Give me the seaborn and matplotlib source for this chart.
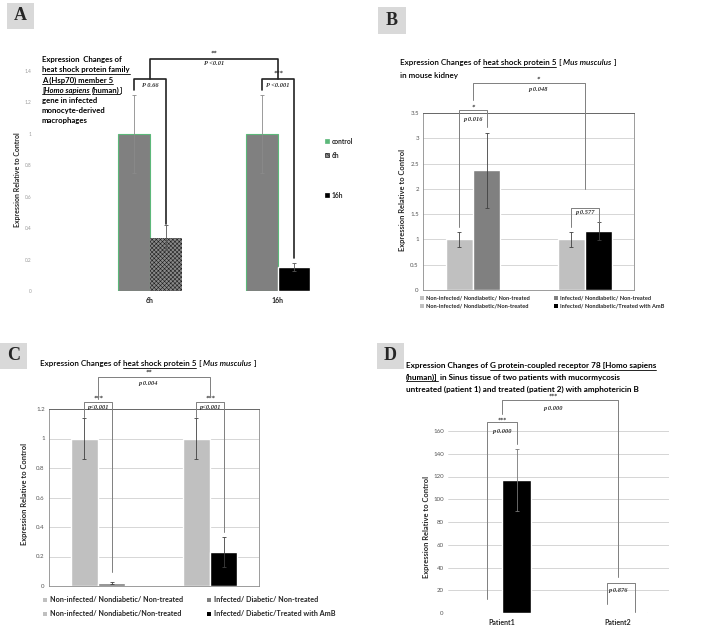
import matplotlib
matplotlib.use("Agg")
import matplotlib.pyplot as plt
import seaborn as sns
import pandas as pd
from matplotlib.patches import Rectangle
from matplotlib.lines import Line2D

W, H = 722, 628

# ===================== DATA =====================
# Panel A - HSPA5, human monocyte-derived macrophages
a_groups = ["6h", "16h"]
a_control = [1.0, 1.0]
a_control_err = [0.25, 0.25]
a_infected = [0.34, 0.155]
a_infected_err = [0.08, 0.025]
a_legend = ["control", "6h", "16h"]

# Panel B - HSP5, mouse kidney (non-diabetic)
b_groups = ["Non-treated", "Treated with AmB"]
b_control = [1.0, 1.0]
b_control_err = [0.14, 0.14]
b_infected = [2.37, 1.16]
b_infected_err = [0.74, 0.18]
b_legend = ["Non-infected/ Nondiabetic/ Non-treated", "Infected/ Nondiabetic/ Non-treated",
            "Non-infected/ Nondiabetic/Non-treated", "Infected/ Nondiabetic/Treated with AmB"]

# Panel C - HSP5, mouse (diabetic)
c_groups = ["Non-treated", "Treated with AmB"]
c_control = [1.0, 1.0]
c_control_err = [0.14, 0.14]
c_infected = [0.02, 0.23]
c_infected_err = [0.005, 0.1]
c_legend = ["Non-infected/ Nondiabetic/ Non-treated", "Infected/ Diabetic/ Non-treated",
            "Non-infected/ Nondiabetic/Non-treated", "Infected/ Diabetic/Treated with AmB"]

# Panel D - GPR78, patients
d_groups = ["Patient1", "Patient2"]
d_control = [1.0, 1.0]
d_infected = [117.0, 0.5]
d_infected_err = [27.0, 0.0]

sns.set_theme(style="white")
plt.rcParams["font.family"] = ["Lato", "DejaVu Sans"]
plt.rcParams["hatch.linewidth"] = 0.4

fig = plt.figure(figsize=(W / 100, H / 100), dpi=100)
fig.patch.set_facecolor("white")
renderer = fig.canvas.get_renderer()


def px_ax(x0, y0, x1, y1):
    return fig.add_axes([x0 / W, 1 - y1 / H, (x1 - x0) / W, (y1 - y0) / H])


def bar_panel(ax, groups, control, infected, width):
    df = pd.DataFrame({
        "group": groups * 2,
        "value": control + infected,
        "series": ["control"] * len(groups) + ["infected"] * len(groups),
    })
    sns.barplot(data=df, x="group", y="value", hue="series", order=groups,
                width=width, ax=ax, legend=False, saturation=1, errorbar=None,
                palette=["#c0c0c0", "#000000"])
    bars = list(ax.patches)
    n = len(groups)
    return bars[:n], bars[n:]


def add_errors(ax, bars, errs, color="#404040"):
    xs = [b.get_x() + b.get_width() / 2 for b in bars]
    ys = [b.get_height() for b in bars]
    ax.errorbar(xs, ys, yerr=errs, fmt="none", ecolor=color, elinewidth=0.6,
                capsize=1.6, capthick=0.6, zorder=5)


def center(b):
    return b.get_x() + b.get_width() / 2


def bracket(ax, x0, x1, top, y0, y1, color="#7f7f7f", lw=0.7):
    ax.plot([x0, x0, x1, x1], [y0, top, top, y1], color=color, lw=lw,
            clip_on=False, zorder=6)


def ptext(ax, x, y, s, size=4.6):
    ax.text(x, y, s, ha="center", va="center", fontsize=size, fontstyle="italic",
            fontweight="bold", family=["Liberation Serif", "DejaVu Serif"],
            color="#333333", clip_on=False)


def rich_line(x, y, parts, size, weight="bold", color="black"):
    # parts: (text, italic, underline); y is baseline in pixels
    sp = fig.text(0, 0, "x x", fontsize=size, fontweight=weight)
    sq = fig.text(0, 0, "xx", fontsize=size, fontweight=weight)
    space = sp.get_window_extent(renderer).width - sq.get_window_extent(renderer).width
    sp.remove()
    sq.remove()
    for text, italic, under in parts:
        lead = len(text) - len(text.lstrip(" "))
        trail = len(text) - len(text.rstrip(" "))
        x += lead * space
        core = text.strip(" ")
        if core:
            t = fig.text(x / W, 1 - y / H, core, fontsize=size, fontweight=weight,
                         fontstyle="italic" if italic else "normal", color=color,
                         ha="left", va="baseline")
            bb = t.get_window_extent(renderer)
            if under:
                fig.add_artist(Line2D([bb.x0 / W, bb.x1 / W], [(H - y - 1.6) / H] * 2,
                                      transform=fig.transFigure, lw=0.6, color=color))
            x += bb.width
        x += trail * space


def panel_label(x0, y0, x1, y1, letter):
    fig.add_artist(Rectangle((x0 / W, 1 - y1 / H), (x1 - x0) / W, (y1 - y0) / H,
                             transform=fig.transFigure, facecolor="#d9d9d9", edgecolor="none"))
    fig.text((x0 + x1) / 2 / W, 1 - (y0 + y1) / 2 / H, letter, ha="center", va="center",
             fontsize=13, fontweight="bold", family=["Liberation Serif", "DejaVu Serif"])


def manual_legend(entries, size):
    # entries: (x_px, y_px, label, facecolor, edgecolor, hatch)
    for x, y, label, fc, ec, hatch in entries:
        fig.add_artist(Rectangle((x / W, 1 - (y + 2.2) / H), 4.4 / W, 4.4 / H,
                                 transform=fig.transFigure, facecolor=fc, edgecolor=ec,
                                 hatch=hatch, lw=0.5))
        fig.text((x + 6.5) / W, 1 - y / H, label, ha="left", va="center", fontsize=size,
                 fontweight="bold", color="#262626")


def ylab(x, y, size=5.4):
    fig.text(x / W, 1 - y / H, "Expression Relative to Control", rotation=90,
             ha="center", va="center", fontsize=size, fontweight="bold")


def boxed_frame(ax, step, top):
    ax.set_yticks([i * step for i in range(int(round(top / step)) + 1)])
    ax.yaxis.grid(True, color="#d0d0d0", lw=0.6)
    ax.set_axisbelow(True)
    for s in ax.spines.values():
        s.set_visible(True)
        s.set_color("#8c8c8c")
        s.set_linewidth(0.6)
    ax.spines["top"].set_color("#555555")
    ax.set_xticks([])
    ax.set_xlabel("")
    ax.set_ylabel("")
    ax.tick_params(axis="y", labelsize=4.4, labelcolor="#555555", length=0, pad=3)


# ===================== PANEL A =====================
axA = px_ax(40, 71, 320, 291)
ca, ia = bar_panel(axA, a_groups, a_control, a_infected, 0.5)
for b in ca:
    b.set_facecolor("#808080")
    b.set_edgecolor("#5cb87a")
    b.set_linewidth(0.8)
ia[0].set_facecolor("#8a8a8a")
ia[0].set_edgecolor("#1e1e1e")
ia[0].set_hatch("xxxxxxxx")
ia[0].set_linewidth(0)
ia[1].set_facecolor("#000000")
add_errors(axA, ca, a_control_err, color="#8a8a8a")
add_errors(axA, ia, a_infected_err, color="#555555")
axA.set_ylim(0, 1.4)
axA.set_xlim((40 - 150) / 128, (320 - 150) / 128)
axA.set_yticks([0, 0.2, 0.4, 0.6, 0.8, 1, 1.2, 1.4])
axA.set_yticklabels(["0", "0.2", "0.4", "0.6", "0.8", "1", "1.2", "1.4"])
axA.tick_params(axis="y", labelsize=3.4, labelcolor="#9a9a9a", length=0, pad=6)
axA.tick_params(axis="x", labelsize=5, length=0, pad=4)
for lbl in axA.get_xticklabels():
    lbl.set_fontweight("bold")
axA.set_xlabel("")
axA.set_ylabel("")
sns.despine(ax=axA, left=True, bottom=True)

bracket(axA, 0, 1, 1.478, 1.35, 1.35, color="#222222", lw=1.2)
bracket(axA, center(ca[0]), center(ia[0]), 1.35, 1.28, 0.425, color="#222222", lw=1.2)
bracket(axA, center(ca[1]), center(ia[1]), 1.35, 1.28, 0.21, color="#222222", lw=1.2)
ptext(axA, 0.5, 1.51, "**")
ptext(axA, 0.5, 1.445, "P <0.01")
ptext(axA, 1.0, 1.385, "***")
ptext(axA, 1.0, 1.31, "P <0.001")
ptext(axA, 0.0, 1.31, "P 0.66")

ylab(18, 180, size=5.0)
manual_legend([(325, 141, a_legend[0], "#5cb87a", "#5cb87a", None),
               (325, 155, a_legend[1], "#8a8a8a", "#1e1e1e", "xxxxx"),
               (325, 195, a_legend[2], "#000000", "#000000", None)], 4.8)

ty = 62
a_lines = [
    [("Expression  Changes of", False, False)],
    [("heat shock protein family", False, True)],
    [("A (Hsp70) member 5", False, True)],
    [("[", False, True), ("Homo sapiens", True, True), (" (human)", False, True), ("]", False, False)],
    [("gene in infected", False, False)],
    [("monocyte-derived", False, False)],
    [("macrophages", False, False)],
]
for i, parts in enumerate(a_lines):
    rich_line(42, ty + i * 10.2, parts, 5.6)
panel_label(7, 3, 34, 29, "A")

# ===================== PANEL B =====================
axB = px_ax(423, 113, 634, 290)
cb, ib = bar_panel(axB, b_groups, b_control, b_infected, 0.49)
for b in cb:
    b.set_facecolor("#c0c0c0")
ib[0].set_facecolor("#808080")
ib[1].set_facecolor("#000000")
add_errors(axB, cb, b_control_err)
add_errors(axB, ib, b_infected_err)
axB.set_ylim(0, 3.5)
axB.set_xlim((423 - 473) / 112, (634 - 473) / 112)
boxed_frame(axB, 0.5, 3.5)
axB.set_yticklabels(["0", "0.5", "1", "1.5", "2", "2.5", "3", "3.5"])

bracket(axB, 0, 1, 4.09, 3.75, 2.0)
bracket(axB, center(cb[0]), center(ib[0]), 3.56, 1.25, 3.22)
bracket(axB, center(cb[1]), center(ib[1]), 1.62, 1.25, 1.34)
ptext(axB, 0.58, 4.17, "*")
ptext(axB, 0.58, 3.97, "p 0.048")
ptext(axB, 0.0, 3.62, "*")
ptext(axB, 0.0, 3.38, "p 0.016")
ptext(axB, 1.0, 1.54, "p 0.577")

ylab(403, 200)
manual_legend([(420, 298, b_legend[0], "#c0c0c0", "none", None),
               (554, 298, b_legend[1], "#808080", "none", None),
               (420, 306, b_legend[2], "#c0c0c0", "none", None),
               (554, 306, b_legend[3], "#000000", "none", None)], 4.1)
rich_line(400, 65, [("Expression Changes of ", False, False), ("heat shock protein 5", False, True),
                    (" [ ", False, False), ("Mus musculus", True, False), (" ]", False, False)],
          5.9, weight="semibold")
rich_line(400, 78, [("in mouse kidney", False, False)], 5.9, weight="semibold")
panel_label(378, 7, 406, 34, "B")

# ===================== PANEL C =====================
axC = px_ax(49, 409, 259, 586)
cc, ic = bar_panel(axC, c_groups, c_control, c_infected, 0.49)
for b in cc:
    b.set_facecolor("#c0c0c0")
ic[0].set_facecolor("#7f7f7f")
ic[1].set_facecolor("#000000")
add_errors(axC, cc, c_control_err)
add_errors(axC, ic, c_infected_err)
axC.set_ylim(0, 1.2)
axC.set_xlim((49 - 98) / 112, (259 - 98) / 112)
boxed_frame(axC, 0.2, 1.2)
axC.set_yticklabels(["0", "0.2", "0.4", "0.6", "0.8", "1", "1.2"])

bracket(axC, 0, 1, 1.417, 1.268, 1.28)
bracket(axC, center(cc[0]), center(ic[0]), 1.247, 1.146, 0.095)
bracket(axC, center(cc[1]), center(ic[1]), 1.247, 1.146, 0.366)
ptext(axC, 0.45, 1.45, "**")
ptext(axC, 0.45, 1.376, "p 0.004")
ptext(axC, 0.0, 1.27, "***")
ptext(axC, 0.0, 1.207, "p<0.001")
ptext(axC, 1.0, 1.27, "***")
ptext(axC, 1.0, 1.207, "p<0.001")

ylab(25, 494)
manual_legend([(43, 600, c_legend[0], "#c0c0c0", "none", None),
               (207, 600, c_legend[1], "#7f7f7f", "none", None),
               (43, 614, c_legend[2], "#c0c0c0", "none", None),
               (207, 614, c_legend[3], "#000000", "none", None)], 5.2)
rich_line(40, 366, [("Expression Changes of ", False, False), ("heat shock protein 5", False, True),
                    (" [ ", False, False), ("Mus musculus", True, False), (" ]", False, False)],
          5.9, weight="semibold")
panel_label(0, 343, 27, 369, "C")

# ===================== PANEL D =====================
axD = px_ax(448, 431, 669, 613)
cd, idd = bar_panel(axD, d_groups, d_control, d_infected, 0.5)
for b in cd:
    b.set_facecolor("#a6a6a6")
for b in idd:
    b.set_facecolor("#000000")
add_errors(axD, idd[:1], d_infected_err[:1], color="#777777")
axD.set_ylim(0, 160)
axD.set_xlim((448 - 502) / 116, (669 - 502) / 116)
axD.set_yticks(range(0, 161, 20))
axD.yaxis.grid(True, color="#cfcfcf", lw=0.6)
axD.set_axisbelow(True)
sns.despine(ax=axD, left=True, bottom=True)
axD.tick_params(axis="y", labelsize=4.4, labelcolor="#555555", length=0, pad=3)
axD.tick_params(axis="x", labelsize=5, length=0, pad=4)
for lbl in axD.get_xticklabels():
    lbl.set_fontweight("bold")
axD.set_xlabel("")
axD.set_ylabel("")

bracket(axD, 0, 1, 187, 175, 31.6)
bracket(axD, center(cd[0]), center(idd[0]), 168, 12.3, 148.6)
bracket(axD, center(cd[1]) + 0.03, center(idd[1]) + 0.02, 26.4, 8, 1)
ptext(axD, 0.44, 190.5, "***", size=4.2)
ptext(axD, 0.44, 180, "p 0.000")
ptext(axD, 0.0, 169.7, "***", size=4.2)
ptext(axD, 0.0, 160, "p 0.000")
ptext(axD, 1.0, 20, "p 0.876")

ylab(426, 527)
d_lines = [
    [("Expression Changes of ", False, False), ("G protein-coupled receptor 78 [Homo sapiens", False, True)],
    [("(human)]", False, True), (" in Sinus tissue of two patients with mucormycosis", False, False)],
    [("untreated (patient 1) and treated (patient 2) with amphotericin B", False, False)],
]
for i, parts in enumerate(d_lines):
    rich_line(406, 368 + i * 11.8, parts, 5.9)
panel_label(377, 343, 404, 369, "D")

fig.savefig("out.png", dpi=100, facecolor="white")
